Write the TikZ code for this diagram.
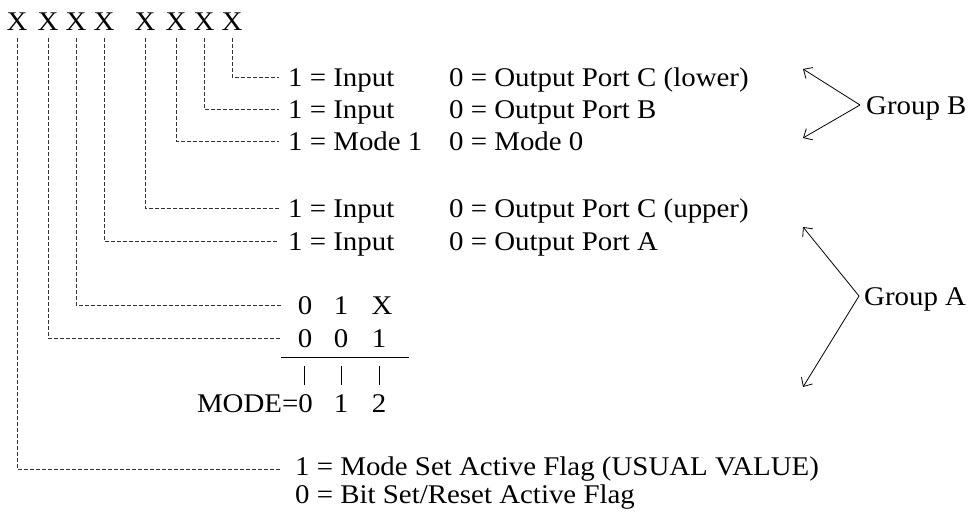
\documentclass[tikz,border=0pt]{standalone}
\usepackage{fontspec}
\setmainfont{Liberation Serif}[FakeStretch=1.07]
\usetikzlibrary{arrows.meta}
\begin{document}
\begin{tikzpicture}[x=1pt,y=-1pt,
  every node/.style={font=\fontsize{27}{32}\selectfont, inner sep=0pt},
  xbit/.style={text height=18pt, text depth=0pt, minimum height=34pt},
  lead/.style={draw=black!80, line width=0.9pt, dash pattern=on 4pt off 2pt},
  lbl/.style={anchor=west, inner xsep=9pt, text height=18.3pt, text depth=0pt},
  rgt/.style={anchor=west, text height=18.3pt, text depth=0pt},
  dig/.style={anchor=center, text height=18.3pt, text depth=0pt},
  grp/.style={-{Straight Barb[length=7pt,width=13pt]}, line width=0.8pt},
  tick/.style={line width=0.9pt},
]
\useasboundingbox (0,0) rectangle (977,514);

% bits
\node[xbit] (b7) at (17,21) {X};
\node[xbit] (b6) at (48,21) {X};
\node[xbit] (b5) at (76,21) {X};
\node[xbit] (b4) at (104,21) {X};
\node[xbit] (b3) at (145,21) {X};
\node[xbit] (b2) at (176,21) {X};
\node[xbit] (b1) at (204,21) {X};
\node[xbit] (b0) at (232,21) {X};

% labels
\node[lbl] (l0) at (279,77) {1 = Input};
\node[rgt] (r0) at (449,77) {0 = Output Port C (lower)};
\node[lbl] (l1) at (279,109) {1 = Input};
\node[rgt] (r1) at (449,109) {0 = Output Port B};
\node[lbl] (l2) at (279,141) {1 = Mode 1};
\node[rgt] (r2) at (449,141) {0 = Mode 0};
\node[lbl] (l3) at (279,208) {1 = Input};
\node[rgt] (r3) at (449,208) {0 = Output Port C (upper)};
\node[lbl] (l4) at (279,241) {1 = Input};
\node[rgt] (r4) at (449,241) {0 = Output Port A};

% mode table
\node[dig] (m5a) at (305,305) {0};
\node[dig] (m5b) at (341,305) {1};
\node[dig] (m5c) at (382,305) {X};
\node[dig] (m6a) at (305,338) {0};
\node[dig] (m6b) at (341,338) {0};
\node[dig] (m6c) at (379,338) {1};
\node[dig, anchor=east] (md0) at (313,403) {MODE=0};
\node[dig] (md1) at (341,403) {1};
\node[dig] (md2) at (379,403) {2};
\draw[tick] (281,357) -- (409,357);
\draw[tick] (304,366) -- (304,385);
\draw[tick] (md1.north |- 0,366) -- (md1.north |- 0,385);
\draw[tick] (md2.north |- 0,366) -- (md2.north |- 0,385);

% bottom
\node[lbl, inner xsep=14pt] (l7) at (281,466) {1 = Mode Set Active Flag (USUAL VALUE)};
\node[lbl, inner xsep=14pt] (l7b) at (281,494) {0 = Bit Set/Reset Active Flag};

% leads
\draw[lead] (b0.south) |- (l0.west);
\draw[lead] (b1.south) |- (l1.west);
\draw[lead] (b2.south) |- (l2.west);
\draw[lead] (b3.south) |- (l3.west);
\draw[lead] (b4.south) |- (l4.west);
\draw[lead, shorten >=17pt] (b5.south) |- (m5a.west);
\draw[lead, shorten >=17pt] (b6.south) |- (m6a.west);
\draw[lead] (b7.south) |- ([yshift=-3pt]l7.west);

% groups
\node[anchor=west, inner xsep=6pt, text height=18.3pt, text depth=0pt] (gB) at (860,105) {Group B};
\node[anchor=west, inner xsep=5pt, text height=18.3pt, text depth=0pt] (gA) at (859,296) {Group A};
\coordinate (bt1) at (803,69);
\coordinate (bt2) at (803,138);
\coordinate (at1) at (803,227);
\coordinate (at2) at (803,387);
\draw[grp] (gB.west) -- (bt1);
\draw[grp] (gB.west) -- (bt2);
\draw[grp] (gA.west) -- (at1);
\draw[grp] (gA.west) -- (at2);
\end{tikzpicture}
\end{document}
